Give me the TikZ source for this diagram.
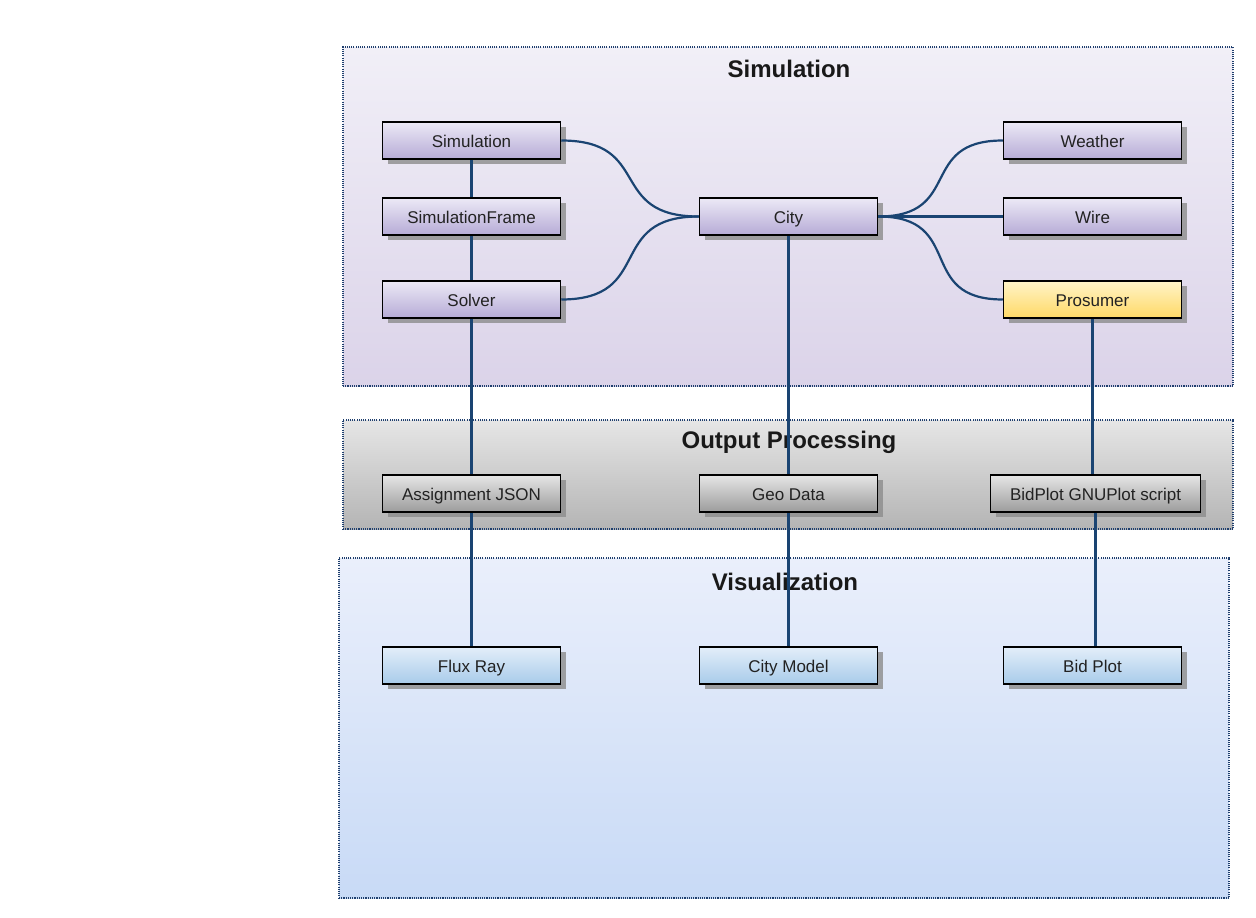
\documentclass[tikz,border=0pt]{standalone}
\usepackage{fontspec}
\setmainfont{Liberation Sans}
\usetikzlibrary{shadows}
\definecolor{edgeblue}{HTML}{1A4472}
\definecolor{frameblue}{HTML}{1F3F6E}
\definecolor{txt}{HTML}{222222}
\definecolor{purtop}{HTML}{ECE9F6}
\definecolor{purbot}{HTML}{B6ABD6}
\definecolor{yeltop}{HTML}{FFF4C8}
\definecolor{yelbot}{HTML}{FFD966}
\definecolor{graytop}{HTML}{E6E6E6}
\definecolor{graybot}{HTML}{9C9C9C}
\definecolor{bluetop}{HTML}{E3EEF9}
\definecolor{bluebot}{HTML}{A8CBEA}
\definecolor{simtop}{HTML}{F1EFF7}
\definecolor{simbot}{HTML}{DBD3E9}
\definecolor{outtop}{HTML}{E6E6E6}
\definecolor{outbot}{HTML}{B4B4B4}
\definecolor{vistop}{HTML}{EAEFFB}
\definecolor{visbot}{HTML}{C8DAF6}
\tikzset{
  x=1pt, y=-1pt,
  container/.style={draw=frameblue, line width=1.1pt, dash pattern=on 1.1pt off 1.1pt, rectangle, inner sep=0pt},
  ctitle/.style={font=\fontsize{24}{28}\selectfont\bfseries, text=black!90, inner sep=0pt},
  box/.style={draw=black, line width=1.5pt, rectangle, minimum width=178pt, minimum height=37pt, inner sep=0pt,
    font=\fontsize{17}{20}\selectfont, text=txt, text height=15pt, text depth=1.4pt,
    drop shadow={shadow xshift=5pt, shadow yshift=-5pt, fill=black!45, opacity=0.8}},
  purplebox/.style={box, top color=purtop, bottom color=purbot},
  yellowbox/.style={box, top color=yeltop, bottom color=yelbot},
  graybox/.style={box, top color=graytop, bottom color=graybot},
  bluebox/.style={box, top color=bluetop, bottom color=bluebot},
  link/.style={draw=edgeblue, line width=2.2pt},
  scurve/.style={out=0, in=180, looseness=1.5},
}
\begin{document}
\begin{tikzpicture}
\useasboundingbox[fill=white] (0,0) rectangle (1256,918);
% containers
\node[container, top color=simtop, bottom color=simbot, minimum width=890pt, minimum height=339pt] (simc) at (788,216.5) {};
\node[container, top color=outtop, bottom color=outbot, minimum width=890pt, minimum height=109pt] (outc) at (788,474.5) {};
\node[container, top color=vistop, bottom color=visbot, minimum width=890pt, minimum height=340pt] (visc) at (784,728) {};
\node[ctitle] (simt) at (789,69) {Simulation};
\node[ctitle] (outt) at (789,442) {Output Processing};
\node[ctitle] (vist) at (785,582) {Visualization};
% nodes
\node[purplebox] (sim) at (471.5,140.5) {Simulation};
\node[purplebox] (frame) at (471.5,216.5) {SimulationFrame};
\node[purplebox] (solver) at (471.5,299.5) {Solver};
\node[purplebox] (city) at (788.5,216.5) {City};
\node[purplebox] (weather) at (1092.5,140.5) {Weather};
\node[purplebox] (wire) at (1092.5,216.5) {Wire};
\node[yellowbox] (prosumer) at (1092.5,299.5) {Prosumer};
\node[graybox] (json) at (471.5,493.5) {Assignment JSON};
\node[graybox] (geo) at (788.5,493.5) {Geo Data};
\node[graybox, minimum width=210pt] (gnu) at (1095.5,493.5) {BidPlot GNUPlot script};
\node[bluebox] (flux) at (471.5,665.5) {Flux Ray};
\node[bluebox] (model) at (788.5,665.5) {City Model};
\node[bluebox] (bid) at (1092.5,665.5) {Bid Plot};
% connectors
\draw[link] (sim.south) -- (frame.north);
\draw[link] (frame.south) -- (solver.north);
\draw[link] (solver.south) -- (json.north);
\draw[link] (json.south) -- (flux.north);
\draw[link] (city.south) -- (geo.north);
\draw[link] (geo.south) -- (model.north);
\draw[link] (prosumer.south) -- (prosumer.south |- gnu.north);
\draw[link] (gnu.south) -- (gnu.south |- bid.north);
\draw[link] (sim.east) to[scurve] (city.west);
\draw[link] (solver.east) to[scurve] (city.west);
\draw[link] (city.east) to[scurve] (weather.west);
\draw[link] (city.east) -- (wire.west);
\draw[link] (city.east) to[scurve] (prosumer.west);
\end{tikzpicture}
\end{document}
